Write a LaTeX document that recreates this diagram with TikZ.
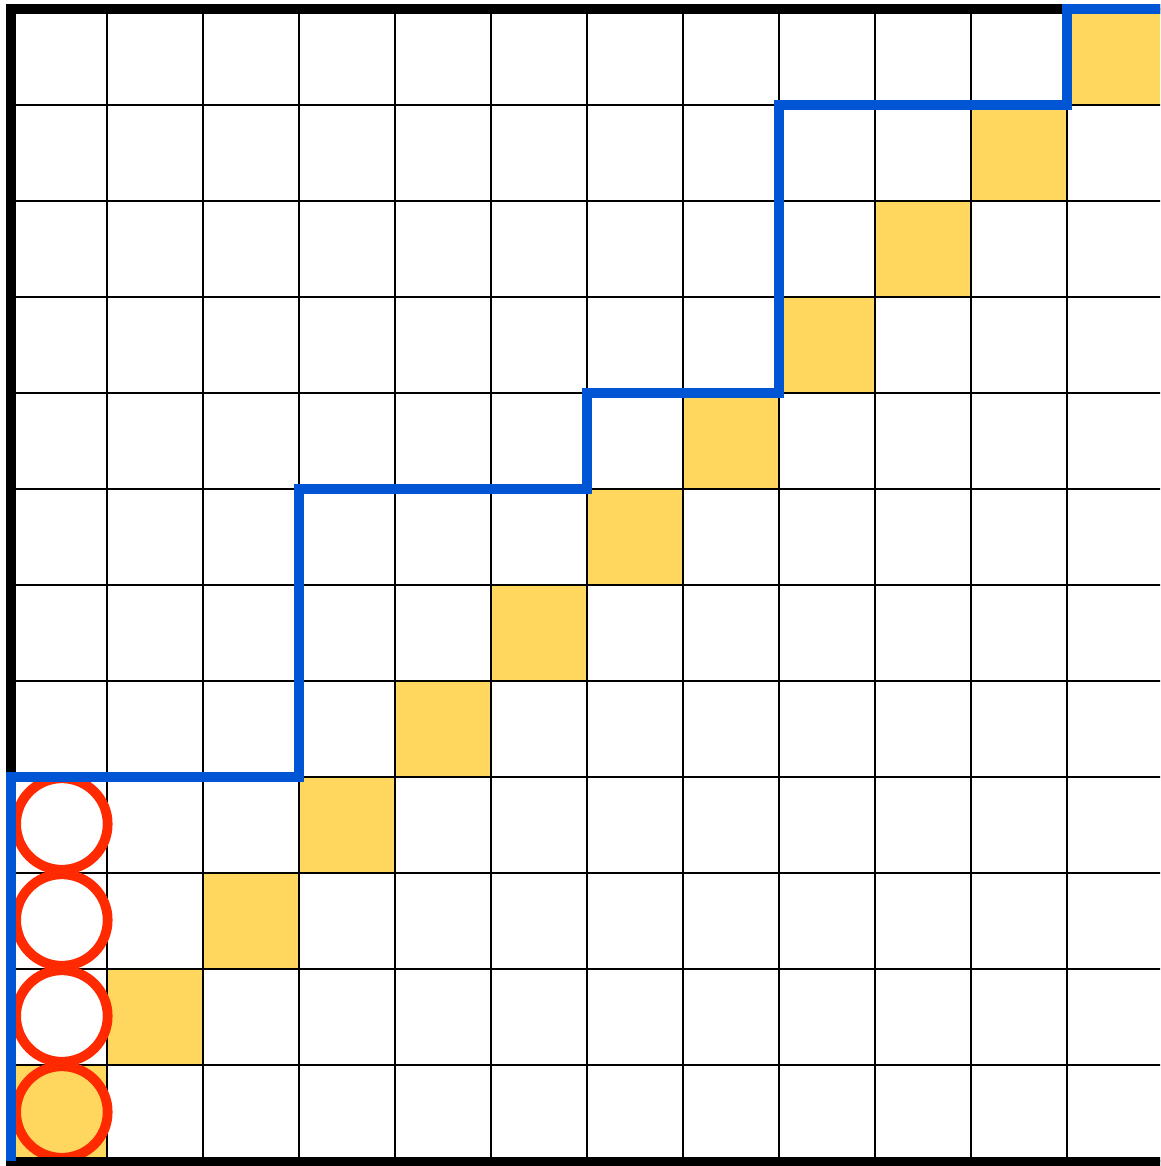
\documentclass[tikz,border=0pt]{standalone}
\definecolor{cellyellow}{RGB}{255,215,94}
\definecolor{pathblue}{RGB}{0,85,212}
\definecolor{ringred}{RGB}{255,42,0}
\tikzset{
  gridline/.style={black,line width=0.8pt},
  frameline/.style={black,line width=3pt,line join=miter},
  bluepath/.style={pathblue,line width=3pt,line join=miter},
  ring/.style={ringred,line width=2.9pt},
  hicell/.style={fill=cellyellow}
}
\begin{document}
\begin{tikzpicture}
\useasboundingbox (-0.1146,-0.0521) rectangle (11.9688,12.0938);
\begin{scope}
\clip (-0.1146,-0.0521) rectangle (11.9688,12.0938);
% yellow diagonal cells
\foreach \i in {0,...,11} {
  \fill[hicell] (\i,\i) rectangle ++(1,1);
}
% thin grid
\draw[gridline] (0,0) grid (12,12);
% rings in first column
\foreach \j in {1,2,3} {
  \draw[ring,fill=white] (0.53,\j+0.51) circle (0.477);
}
\draw[ring,fill=cellyellow] (0.53,0.51) circle (0.477);
% black frame
\draw[frameline] (0,0) -- (0,12) -- (12.3,12);
\draw[frameline,line cap=rect] (0,-0.01) -- (12.3,-0.01);
% blue staircase path
\draw[bluepath] (0,0) -- (0,4) -- (3,4) -- (3,7) -- (6,7) -- (6,8)
  -- (8,8) -- (8,11) -- (11,11) -- (11,12) -- (12.3,12);
\end{scope}
\end{tikzpicture}
\end{document}
